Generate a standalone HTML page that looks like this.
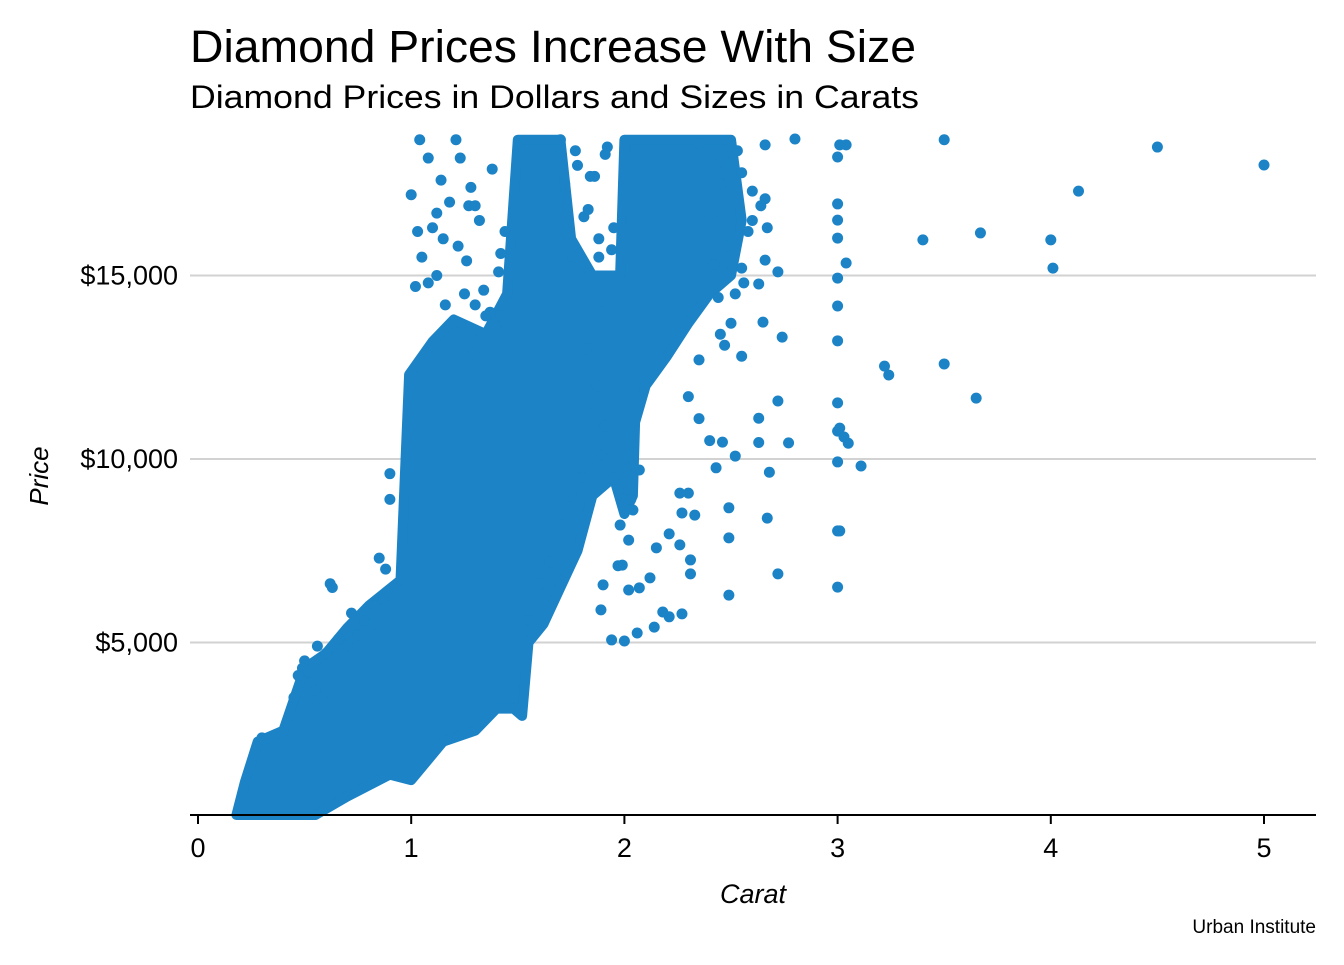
<!DOCTYPE html>
<html><head><meta charset="utf-8">
<style>
body{margin:0;background:#fff;font-family:"Liberation Sans",sans-serif}
svg text{font-family:"Liberation Sans",sans-serif}
</style></head>
<body>
<svg id="chart" width="1344" height="960" viewBox="0 0 1344 960" xmlns="http://www.w3.org/2000/svg">
<text x="190" y="62" font-size="45" textLength="726" lengthAdjust="spacingAndGlyphs" fill="#000">Diamond Prices Increase With Size</text>
<text x="190" y="108" font-size="32" textLength="729" lengthAdjust="spacingAndGlyphs" fill="#000">Diamond Prices in Dollars and Sizes in Carats</text>
<g id="grid"></g>
<g id="marks"></g>
<g id="axes"></g>
<text transform="translate(48,476) rotate(-90)" text-anchor="middle" font-size="26" font-style="italic">Price</text>
<text x="753" y="903" text-anchor="middle" font-size="27" font-style="italic">Carat</text>
<text x="1316" y="933" text-anchor="end" font-size="19">Urban Institute</text>
</svg>
<script>
const xTicks = [0,1,2,3,4,5];
const yTicks = [5000,10000,15000];
const yTickLabels = ["$5,000","$10,000","$15,000"];
// dense region envelope (carat, price)
const bandCarat = [0.18,0.22,0.28,0.4,0.5,0.6,0.7,0.8,0.95,0.99,1.1,1.2,1.35,1.45,1.5,1.7,1.75,1.85,1.98,2.0,2.5,2.55,2.5,2.4,2.3,2.2,2.1,2.05,2.04,2.0,1.95,1.85,1.78,1.7,1.62,1.55,1.52,1.48,1.4,1.3,1.15,1.0,0.9,0.7,0.55];
const bandPrice = [300,1200,2300,2600,4300,4700,5400,6000,6700,12300,13200,13800,13400,14500,18700,18700,16000,15000,15000,18700,18700,16500,15000,14500,13700,12800,12000,11000,9000,8500,9500,9000,7500,6500,5500,5000,3000,3200,3200,2600,2300,1250,1400,800,300];
// individual sparse points (carat, price)
const carat = [5.00,4.50,4.13,4.00,4.01,3.67,3.40,3.50,3.50,3.65,3.22,3.24,3.11,3.00,3.00,3.01,3.00,3.00,3.01,3.03,3.05,3.00,3.00,3.00,3.00,3.04,3.00,3.00,3.00,3.00,3.01,3.04,
2.80,2.72,2.74,2.77,2.72,2.72,2.67,2.68,2.63,2.63,2.65,2.63,2.66,2.67,2.66,2.66,
2.49,2.49,2.49,2.52,2.46,2.43,2.31,2.31,2.26,2.27,2.30,2.26,2.21,2.27,2.18,2.14,2.06,2.00,1.94,1.89,1.90,2.02,2.07,1.97,1.99,2.33,2.21,2.12,2.15,2.02,1.98,2.04,2.01,2.07,2.00,2.03,
2.35,2.45,2.55,2.6,2.64,2.55,2.52,2.50,2.55,2.45,2.35,2.30,2.35,2.40,2.58,2.60,2.53,2.48,2.42,2.44,2.41,2.45,2.47,2.56,
1.04,1.08,1.14,1.12,1.15,1.12,1.03,1.00,1.02,1.21,1.23,1.28,1.32,1.41,1.37,1.40,1.25,1.29,1.35,1.30,1.42,1.27,
1.70,1.77,1.81,1.84,1.88,1.91,1.89,1.82,1.84,1.87,1.91,1.89,1.80,1.75,1.70,1.65,1.60,1.55,
0.62,0.63,0.83,0.88,0.90,0.75,0.82,0.87,0.70,0.66,0.60,0.50,0.49,0.47,0.55,0.58,
1.05,1.10,1.18,1.22,1.30,1.38,1.44,1.08,1.16,1.26,1.34,1.42,
1.72,1.78,1.83,1.86,1.92,1.95,1.76,1.88,1.94,
0.30,0.33,0.45,0.52,0.56,0.72,0.78,0.85,0.90];
const price = [18010,18500,17300,15970,15200,16160,15970,18700,12590,11660,12530,12290,9810,6510,8040,8040,9920,10760,10840,10600,10430,11530,13220,14170,14930,15340,16020,16510,16950,18230,18560,18560,
18780,15100,13320,10440,11580,6870,8390,9640,10450,11110,13730,14770,15420,16300,17090,18560,
6290,7850,8670,10080,10460,9760,6870,7250,7660,8530,9070,9070,5700,5780,5830,5420,5260,5040,5070,5890,6570,6430,6490,7090,7110,8470,7960,6760,7580,7790,8200,8610,9760,9700,10000,8900,
18600,18100,17800,16500,16900,15200,14500,13700,12800,13400,12700,11700,11100,10500,16200,17300,18400,15800,15300,14400,16700,17500,13100,14800,
18700,18200,17600,16700,16000,15000,16200,17200,14700,18700,18200,17400,16500,15100,14000,13600,14500,12900,13900,14200,15600,16900,
18700,18400,16600,17700,15500,18300,14300,13000,11500,12000,10900,10100,9500,9000,8200,7200,6600,5600,
6600,6500,6000,7000,9600,5200,5500,6200,4900,5100,4700,4500,4300,4100,3700,3500,
15500,16300,17000,15800,16900,17900,16200,14800,14200,15400,14600,13900,
17500,18000,16800,17700,18500,16300,15500,16000,15700,
2400,2400,3500,4200,4900,5800,5600,7300,8900];

const NS = "http://www.w3.org/2000/svg";
const X0 = 198, XS = 213.2, Y0 = 826, YS = 0.0367;
function xPos(c){ return X0 + c*XS; }
function yPos(p){ return Y0 - p*YS; }
const COLOR = "#1b83c6";

const grid = document.getElementById('grid');
yTicks.forEach((t,i)=>{
  const l = document.createElementNS(NS,'line');
  
  
  l.setAttribute('x1',190); l.setAttribute('x2',1316);
  l.setAttribute('y1',yPos(t)); l.setAttribute('y2',yPos(t));
  l.setAttribute('stroke','#d2d2d2'); l.setAttribute('stroke-width','2');
  grid.appendChild(l);
  const tx = document.createElementNS(NS,'text');
  
  
  tx.setAttribute('x',178); tx.setAttribute('y',yPos(t)+9);
  tx.setAttribute('text-anchor','end'); tx.setAttribute('font-size','27');
  tx.textContent = yTickLabels[i];
  grid.appendChild(tx);
});

const marks = document.getElementById('marks');
let d = '';
bandCarat.forEach((c,i)=>{ d += (i?'L':'M') + xPos(c).toFixed(1) + ',' + yPos(bandPrice[i]).toFixed(1); });
const band = document.createElementNS(NS,'path');


band.setAttribute('d', d + 'Z');
band.setAttribute('fill',COLOR); band.setAttribute('stroke',COLOR);
band.setAttribute('stroke-width','10'); band.setAttribute('stroke-linejoin','round');
marks.appendChild(band);

const n = Math.min(carat.length, price.length);
for (let i = 0; i < n; i++) {
  const y = Math.max(yPos(price[i]), 139);
  const p = document.createElementNS(NS,'circle');
  
  
  p.setAttribute('cx',xPos(carat[i])); p.setAttribute('cy',y); p.setAttribute('r',5.5);
  p.setAttribute('fill',COLOR);
  marks.appendChild(p);
}

const axes = document.getElementById('axes');
const ax = document.createElementNS(NS,'line');


ax.setAttribute('x1',190); ax.setAttribute('x2',1316); ax.setAttribute('y1',815); ax.setAttribute('y2',815);
ax.setAttribute('stroke','#000'); ax.setAttribute('stroke-width','2');
axes.appendChild(ax);
xTicks.forEach(t=>{
  const tk = document.createElementNS(NS,'line');
  
  
  tk.setAttribute('x1',xPos(t)); tk.setAttribute('x2',xPos(t));
  tk.setAttribute('y1',815); tk.setAttribute('y2',824);
  tk.setAttribute('stroke','#000'); tk.setAttribute('stroke-width','2');
  axes.appendChild(tk);
  const tx = document.createElementNS(NS,'text');
  
  
  tx.setAttribute('x',xPos(t)); tx.setAttribute('y',857);
  tx.setAttribute('text-anchor','middle'); tx.setAttribute('font-size','27');
  tx.textContent = t;
  axes.appendChild(tx);
});
</script>
</body></html>
